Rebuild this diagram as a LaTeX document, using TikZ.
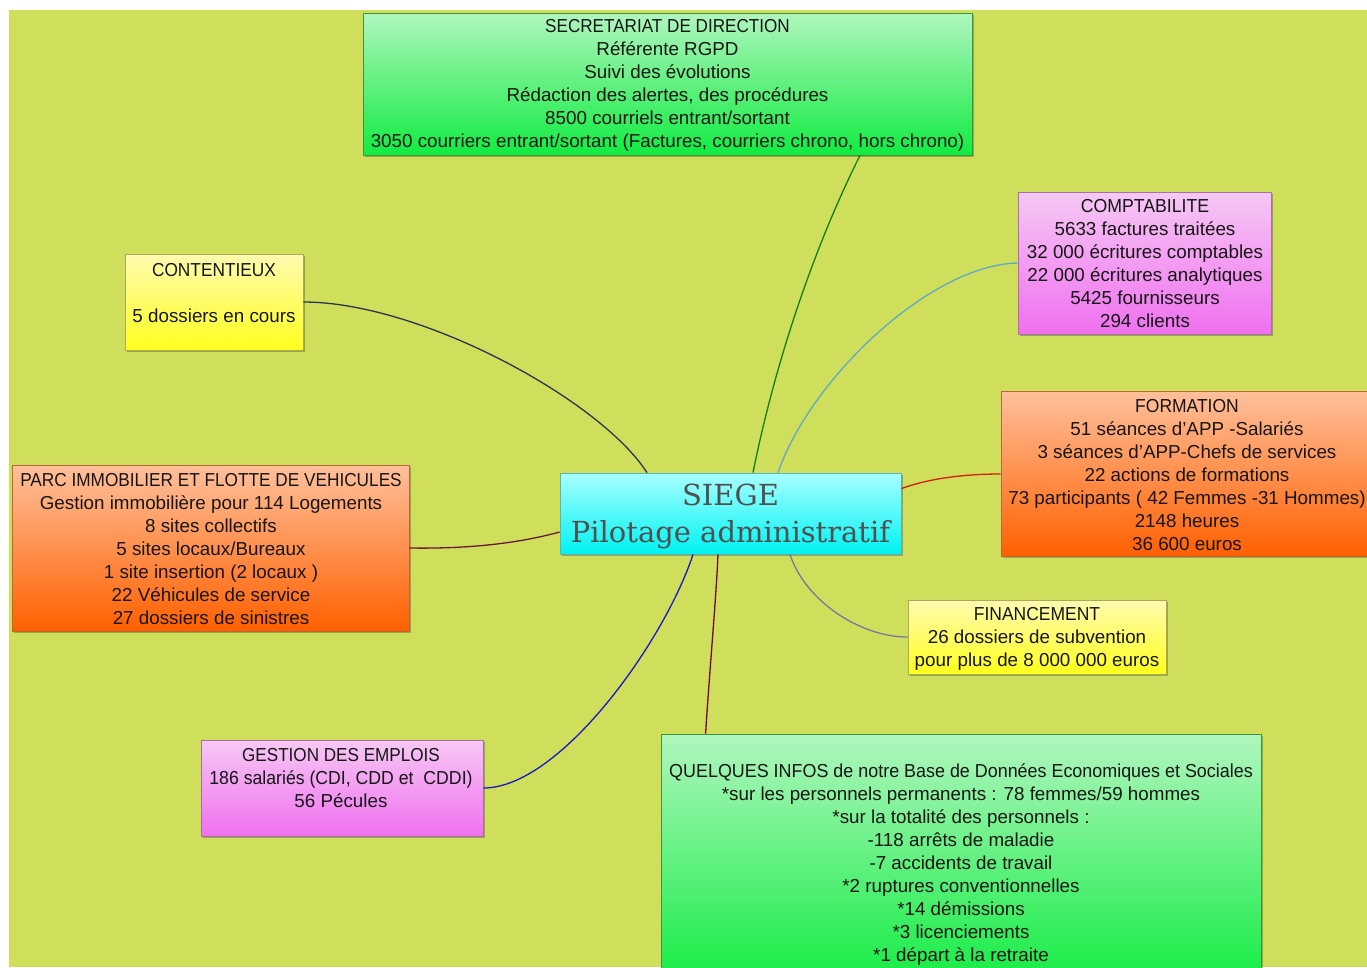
\documentclass[tikz,border=0pt]{standalone}
\usepackage{fontspec}
\usepackage{graphicx}
\setmainfont{Liberation Sans}
\newfontfamily\slabfont{DejaVu Serif}
\usetikzlibrary{calc,shadows}
\newcommand{\capl}[2][0.92]{\scalebox{#1}[1]{#2}}
\definecolor{bgc}{RGB}{207,223,92}
\definecolor{txtc}{RGB}{22,22,22}
\definecolor{siegetxt}{RGB}{80,80,80}
\definecolor{grTop}{RGB}{176,246,190}
\definecolor{grBot}{RGB}{16,236,64}
\definecolor{grDraw}{RGB}{60,150,60}
\definecolor{pkTop}{RGB}{246,200,244}
\definecolor{pkBot}{RGB}{240,112,240}
\definecolor{pkDraw}{RGB}{170,110,170}
\definecolor{ywTop}{RGB}{255,251,176}
\definecolor{ywBot}{RGB}{255,255,30}
\definecolor{ywDraw}{RGB}{170,170,90}
\definecolor{orTop}{RGB}{255,192,155}
\definecolor{orBot}{RGB}{255,96,0}
\definecolor{orDraw}{RGB}{190,100,60}
\definecolor{cyTop}{RGB}{168,255,255}
\definecolor{cyBot}{RGB}{0,242,242}
\definecolor{cyDraw}{RGB}{90,180,190}
\definecolor{cSec}{RGB}{16,128,16}
\definecolor{cCompta}{RGB}{96,168,200}
\definecolor{cCont}{RGB}{42,53,80}
\definecolor{cForm}{RGB}{208,32,0}
\definecolor{cParc}{RGB}{106,24,48}
\definecolor{cFin}{RGB}{120,120,160}
\definecolor{cGest}{RGB}{24,24,200}
\definecolor{cQuel}{RGB}{112,8,48}
\tikzset{
  boxbase/.style={rectangle, inner sep=0pt, line width=0.8pt,
    drop shadow={shadow xshift=1.5pt, shadow yshift=-1.5pt, opacity=0.25, fill=black}},
  greenbox/.style={boxbase, draw=grDraw, top color=grTop, bottom color=grBot},
  pinkbox/.style={boxbase, draw=pkDraw, top color=pkTop, bottom color=pkBot},
  yellowbox/.style={boxbase, draw=ywDraw, top color=ywTop, bottom color=ywBot},
  orangebox/.style={boxbase, draw=orDraw, top color=orTop, bottom color=orBot},
  cyanbox/.style={boxbase, draw=cyDraw, top color=cyTop, bottom color=cyBot},
  boxtext/.style={align=center, inner sep=0pt, text=txtc,
    font=\fontsize{18.8}{23}\selectfont},
  link/.style={line width=1.3pt},
}
\begin{document}
\begin{tikzpicture}[x=1pt,y=-1pt]
\useasboundingbox (0,0) rectangle (1367,967);
\clip (0,0) rectangle (1367,967);
\fill[white] (0,0) rectangle (1367,967);
\fill[bgc] (9,10) rectangle (1367,967);

% boxes
\node[greenbox, minimum width=609pt, minimum height=142pt] (sec) at (667.5,84) {};
\node[pinkbox, minimum width=253pt, minimum height=142pt] (compta) at (1144.5,263) {};
\node[yellowbox, minimum width=178pt, minimum height=96pt] (cont) at (214,302) {};
\node[orangebox, minimum width=369pt, minimum height=165pt] (form) at (1185.5,473.5) {};
\node[orangebox, minimum width=397pt, minimum height=166pt] (parc) at (210.5,548) {};
\node[cyanbox, minimum width=341pt, minimum height=81pt] (siege) at (730.5,513.5) {};
\node[yellowbox, minimum width=258pt, minimum height=74pt] (fin) at (1037,637) {};
\node[pinkbox, minimum width=282pt, minimum height=96pt] (gest) at (342,788) {};
\node[greenbox, minimum width=600pt, minimum height=256pt] (quel) at (961,862) {};

% texts
\node[boxtext] (secT) at (667.5,85.5) {\capl[0.91]{SECRETARIAT DE DIRECTION}\\R\'ef\'erente RGPD\\Suivi des \'evolutions\\R\'edaction des alertes, des proc\'edures\\8500 courriels entrant/sortant\\3050 courriers entrant/sortant (Factures, courriers chrono, hors chrono)};
\node[boxtext] (comptaT) at (1145,264) {\capl[0.94]{COMPTABILITE}\\5633 factures trait\'ees\\32 000 \'ecritures comptables\\22 000 \'ecritures analytiques\\5425 fournisseurs\\294 clients};
\node[boxtext] (contT) at (214,293.5) {\capl{CONTENTIEUX}\\[23pt]5 dossiers en cours};
\node[boxtext] (formT) at (1187,475.5) {\capl[0.93]{FORMATION}\\51 s\'eances d'APP -Salari\'es\\3 s\'eances d'APP-Chefs de services\\22 actions de formations\\73 participants ( 42 Femmes -31 Hommes)\\2148 heures\\36 600 euros};
\node[boxtext] (parcT) at (211,549.5) {\capl[0.916]{PARC IMMOBILIER ET FLOTTE DE VEHICULES}\\Gestion immobili\`ere pour 114 Logements\\8 sites collectifs\\5 sites locaux/Bureaux\\1 site insertion (2 locaux )\\22 V\'ehicules de service\\27 dossiers de sinistres};
\node[align=center, inner sep=0pt, text=siegetxt, font=\slabfont\fontsize{29}{37}\selectfont] (siegeT) at (730.5,516) {SIEGE\\Pilotage administratif};
\node[boxtext] (finT) at (1037,639) {\capl[0.93]{FINANCEMENT}\\26 dossiers de subvention\\pour plus de 8 000 000 euros};
\node[boxtext] (gestT) at (341,778.5) {\capl[0.91]{GESTION DES EMPLOIS}\\\capl[0.94]{186 salari\'es (CDI, CDD et\ \ CDDI)}\\56 P\'ecules};
\node[boxtext] (quelT) at (961,865) {\capl[0.953]{QUELQUES INFOS de notre Base de Donn\'ees Economiques et Sociales}\\*sur les personnels permanents : 78 femmes/59 hommes\\*sur la totalit\'e des personnels :\\-118 arr\^ets de maladie\\-7 accidents de travail\\*2 ruptures conventionnelles\\*14 d\'emissions\\*3 licenciements\\*1 d\'epart \`a la retraite};

% connectors
\draw[link, cSec] ($(sec.south)+(192.5,0)$) .. controls +(-50,100) and +(20,-100) .. ($(siege.north)+(22.5,0)$);
\draw[link, cCompta] (compta.west) .. controls +(-88,2) and +(32,-93) .. ($(siege.north)+(47.5,0)$);
\draw[link, cCont] (cont.east) .. controls +(117,0) and +(-47,-73) .. ($(siege.north)+(-83.5,0)$);
\draw[link, cForm] ($(form.west)+(0,0.5)$) .. controls +(-41,0) and +(24,-9) .. ($(siege.north east)+(0,16)$);
\draw[link, cParc] (parc.east) .. controls +(61,1) and +(-40,11) .. ($(siege.west)+(0,18.5)$);
\draw[link, cFin] (fin.west) .. controls +(-48,0) and +(15,46) .. ($(siege.south)+(59.5,0)$);
\draw[link, cGest] (gest.east) .. controls +(77,0) and +(-28,86) .. ($(siege.south)+(-37.5,0)$);
\draw[link, cQuel] ($(quel.north west)+(45,0)$) .. controls +(4,-64) and +(-2,46) .. ($(siege.south)+(-12.5,0)$);
\end{tikzpicture}
\end{document}
